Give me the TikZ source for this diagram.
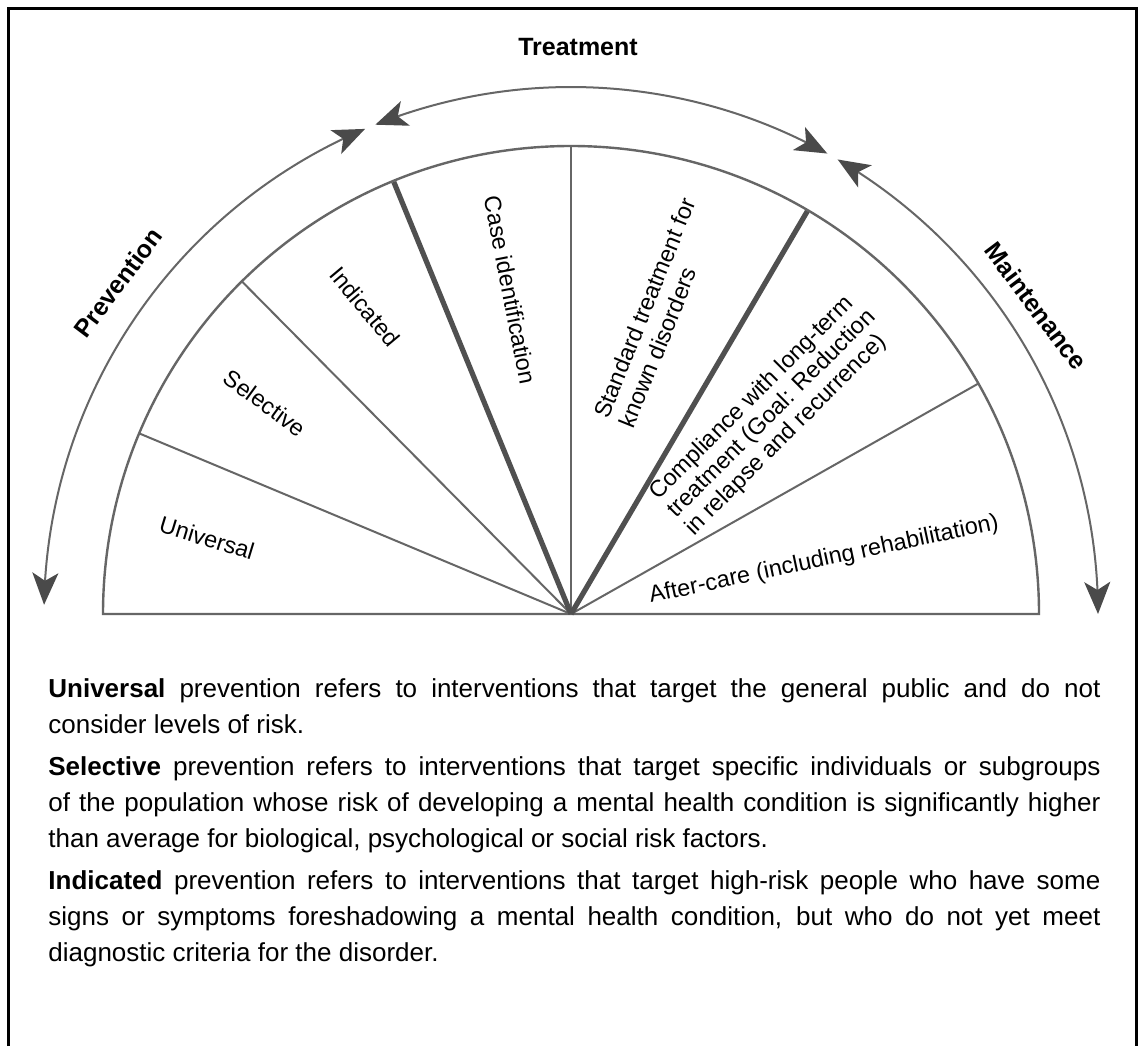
\documentclass[tikz,border=0pt]{standalone}
\usepackage{fontspec}
\setmainfont{Liberation Sans}
\usetikzlibrary{arrows.meta,bending}
\definecolor{arcgray}{HTML}{666666}
\definecolor{spokegray}{HTML}{666666}
\definecolor{thickgray}{HTML}{505050}
\definecolor{headgray}{HTML}{4A4A4A}
\begin{document}
\begin{tikzpicture}[x=0.5pt,y=0.5pt,
  arcline/.style={draw=arcgray, line width=1.2pt},
  thinspoke/.style={draw=spokegray, line width=1pt},
  thickspoke/.style={draw=thickgray, line width=2.6pt},
  cyclearrow/.style={draw=arcgray, line width=1pt,
    {Stealth[length=16pt,width=13pt,inset=4pt,color=headgray]}-{Stealth[length=16pt,width=13pt,inset=4pt,color=headgray]}},
  seglabel/.style={font=\fontsize{11.7}{13}\selectfont, inner sep=0pt},
  phaselabel/.style={font=\bfseries\fontsize{12.5}{15}\selectfont, inner sep=0pt},
]
\useasboundingbox (0,0) rectangle (1138,1046);
\fill[white] (0,0) rectangle (1138,1046);
% frame
\draw[line width=1.5pt, black] (8,0) -- (8,1037) -- (1136,1037) -- (1136,0);
\coordinate (C) at (571,432);
% semicircle
\draw[arcline] ([shift={(180:468)}]C) arc[start angle=180, end angle=0, radius=468] -- cycle;
% spokes
\draw[thinspoke] (C) -- ++(157.3:468);
\draw[thinspoke] (C) -- ++(134.7:468);
\draw[thinspoke] (C) -- ++(90:468);
\draw[thinspoke] (C) -- ++(29.5:468);
\draw[thickspoke] (C) -- ++(112.3:467);
\draw[thickspoke] (C) -- ++(59.6:467);
% phase arrows
\draw[cyclearrow] ([shift={(179:527)}]C) arc[start angle=179, end angle=113, radius=527];
\draw[cyclearrow] ([shift={(111.8:527)}]C) arc[start angle=111.8, end angle=60.9, radius=527];
\draw[cyclearrow] ([shift={(59.6:527)}]C) arc[start angle=59.6, end angle=0, radius=527];
% segment labels
\node[seglabel, rotate=-17] (universal) at (207,508) {Universal};
\node[seglabel, rotate=-36] (selective) at (265,643) {Selective};
\node[seglabel, rotate=-50] (indicated) at (365,739) {Indicated};
\node[seglabel, rotate=-79] (caseid) at (510,756) {Case identification};
\node[seglabel, rotate=68, align=left, font=\fontsize{11.7}{13.5}\selectfont] (standard) at (657,733) {Standard treatment for\\known disorders};
\node[seglabel, rotate=45, align=left, font=\fontsize{11.7}{12.6}\selectfont] (compliance) at (772,632) {Compliance with long-term\\treatment (Goal: Reduction\\in relapse and recurrence)};
\node[seglabel, rotate=12] (aftercare) at (824,486) {After-care (including rehabilitation)};
% phase labels
\node[phaselabel] (treatment) at (578,999) {Treatment};
\node[phaselabel, rotate=53] (prevention) at (118,763) {Prevention};
\node[phaselabel, rotate=-53] (maintenance) at (1036,740) {Maintenance};
% description
\node[anchor=north west, inner sep=0pt, text width=526pt, align=justify,
      font=\fontsize{13}{18}\selectfont] (desc) at (48,368) {\parindent=0pt\hyphenpenalty=10000\exhyphenpenalty=10000
\textbf{Universal} prevention refers to interventions that target the general public and do not\linebreak consider levels of risk.\par\vspace{3pt}
\textbf{Selective} prevention refers to interventions that target specific individuals or subgroups\linebreak of the population whose risk of developing a mental health condition is significantly higher\linebreak than average for biological, psychological or social risk factors.\par\vspace{3pt}
\textbf{Indicated} prevention refers to interventions that target high-risk people who have some\linebreak signs or symptoms foreshadowing a mental health condition, but who do not yet meet\linebreak diagnostic criteria for the disorder.};
\end{tikzpicture}
\end{document}
